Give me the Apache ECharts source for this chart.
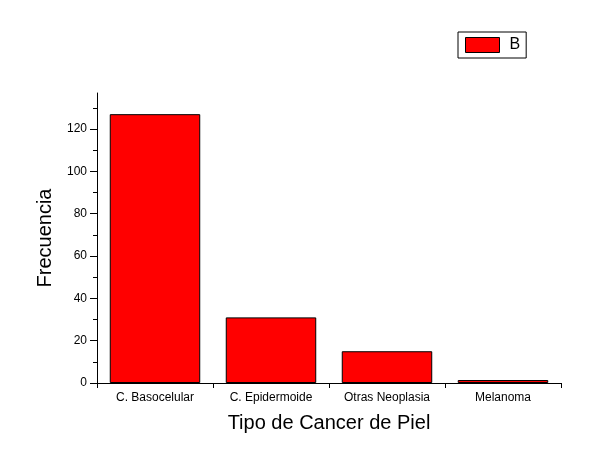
<!DOCTYPE html>
<html>
<head>
<meta charset="utf-8">
<script src="https://cdn.jsdelivr.net/npm/echarts@6/dist/echarts.min.js"></script>
<style>
  html, body { margin: 0; padding: 0; background: #fff; }
  #chart { width: 593px; height: 470px; }
</style>
</head>
<body>
<div id="chart"></div>
<script>
// data
const categories = ['C. Basocelular', 'C. Epidermoide', 'Otras Neoplasia', 'Melanoma'];
const valuesB = [127, 31, 15, 1.4];
const majorTicks = [0, 20, 40, 60, 80, 100, 120];
const minorTicks = [10, 30, 50, 70, 90, 110, 130];

const font = 'Liberation Sans, Arial, sans-serif';
let chart = echarts.init(document.getElementById('chart'), null, { renderer: 'canvas' });

const option = {
    animation: false,
    backgroundColor: '#fff',
    grid: { left: 97, right: 32, top: 93, bottom: 87 },
    legend: {
        data: ['B'],
        left: 458,
        top: 32,
        padding: [5, 6, 5, 7],
        itemWidth: 34,
        itemHeight: 15,
        borderColor: '#000',
        borderWidth: 1,
        icon: 'rect',
        itemStyle: { borderColor: '#000', borderWidth: 1 },
        textStyle: { fontFamily: font, fontSize: 16, color: '#000', padding: [0, 0, 0, 5] }
    },
    xAxis: {
        type: 'category',
        data: categories,
        name: 'Tipo de Cancer de Piel',
        nameLocation: 'middle',
        nameGap: 30,
        nameTextStyle: { fontFamily: font, fontSize: 20, color: '#000' },
        axisLine: { lineStyle: { color: '#000', width: 1 } },
        axisTick: { show: true, length: 5, lineStyle: { color: '#000' } },
        axisLabel: { fontFamily: font, fontSize: 12, color: '#000', margin: 9 },
        splitLine: { show: false }
    },
    yAxis: [
        {
            type: 'value',
            min: 0,
            max: 137,
            name: 'Frecuencia',
            nameLocation: 'middle',
            nameGap: 42,
            nameTextStyle: { fontFamily: font, fontSize: 20, color: '#000' },
            axisLine: { show: true, lineStyle: { color: '#000', width: 1 } },
            axisTick: { show: true, length: 7, customValues: majorTicks, lineStyle: { color: '#000' } },
            axisLabel: { fontFamily: font, fontSize: 12, color: '#000', margin: 10, customValues: majorTicks },
            splitLine: { show: false }
        },
        {
            // minor ticks only
            type: 'value',
            position: 'left',
            min: 0,
            max: 137,
            axisLine: { show: false },
            axisTick: { show: true, length: 4, customValues: minorTicks, lineStyle: { color: '#000' } },
            axisLabel: { show: false },
            splitLine: { show: false }
        }
    ],
    series: [
        {
            name: 'B',
            type: 'bar',
            data: valuesB,
            barCategoryGap: '22%',
            itemStyle: { color: '#ff0000', borderColor: '#000', borderWidth: 1 }
        }
    ]
};

chart.setOption(option);
</script>
</body>
</html>
